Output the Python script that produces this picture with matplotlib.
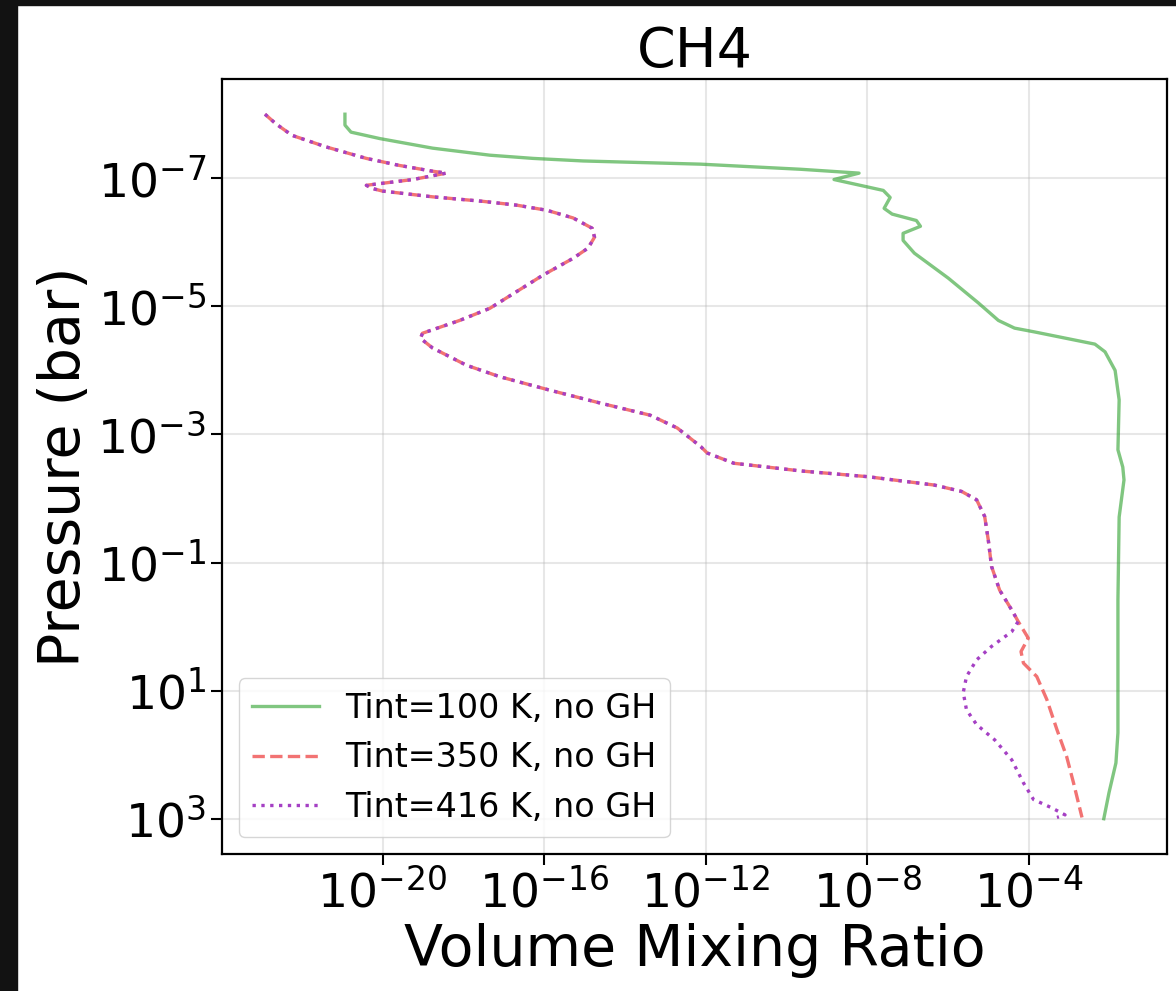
import numpy as np
import matplotlib
matplotlib.use('Agg')
import matplotlib.pyplot as plt
from matplotlib.patches import Rectangle

# log10 values (x = VMR, y = pressure in bar)
tint100_logx = [-20.93, -20.93, -20.78, -20.07, -18.76, -17.34, -16.27, -15.03, -12.12, -9.64,
                -8.20, -8.82, -7.60, -7.43, -7.58, -7.38, -6.78, -6.68, -7.11, -7.11,
                -6.83, -5.99, -5.24, -4.75, -4.35, -3.85, -2.36, -2.11, -1.86, -1.76,
                -1.79, -1.67, -1.64, -1.76, -1.79, -1.79, -1.84, -2.01, -2.14]
tint100_logp = [-8.00, -7.83, -7.72, -7.62, -7.47, -7.36, -7.31, -7.27, -7.22, -7.14,
                -7.08, -6.98, -6.81, -6.70, -6.53, -6.44, -6.34, -6.25, -6.14, -6.03,
                -5.83, -5.44, -5.05, -4.78, -4.66, -4.60, -4.41, -4.29, -4.00, -3.54,
                -2.76, -2.49, -2.29, -1.71, -0.42, 1.66, 2.13, 2.59, 3.00]

# upper part shared by the two hot models
hot_upper_logx = [-22.91, -22.64, -22.24, -21.40, -20.40, -19.58, -18.76, -18.42, -19.25, -20.40,
                  -20.25, -20.00, -18.76, -17.52, -16.68, -15.93, -15.28, -14.81, -14.75, -14.91,
                  -15.28, -16.02, -16.68, -17.34, -18.09, -19.01, -19.06, -18.76, -17.92, -17.09,
                  -15.85, -14.61, -13.37, -12.70, -12.12, -11.96, -11.30, -9.64, -7.98, -6.34,
                  -5.66, -5.29, -5.09, -5.00, -4.92, -4.72, -4.42, -4.26]
hot_upper_logp = [-8.00, -7.85, -7.67, -7.49, -7.31, -7.20, -7.11, -7.08, -6.98, -6.89,
                  -6.84, -6.80, -6.71, -6.64, -6.58, -6.50, -6.38, -6.22, -6.08, -5.91,
                  -5.75, -5.49, -5.23, -4.97, -4.78, -4.58, -4.50, -4.35, -4.08, -3.90,
                  -3.69, -3.49, -3.30, -3.10, -2.81, -2.71, -2.55, -2.43, -2.34, -2.21,
                  -2.11, -1.98, -1.72, -1.35, -0.94, -0.57, -0.26, -0.08]

tint350_tail_logx = [-4.01, -4.19, -4.13, -3.80, -3.55, -3.30, -3.06, -2.89, -2.68]
tint350_tail_logp = [0.18, 0.39, 0.57, 0.78, 1.14, 1.61, 2.03, 2.44, 2.98]

tint416_tail_logx = [-4.42, -4.92, -5.29, -5.54, -5.62, -5.54, -5.29, -4.84, -4.42, -4.13,
                     -3.88, -3.43, -3.10, -3.30]
tint416_tail_logp = [0.08, 0.31, 0.52, 0.78, 1.03, 1.30, 1.53, 1.77, 2.08, 2.44,
                     2.70, 2.83, 2.94, 2.98]

labels = ['Tint=100 K, no GH', 'Tint=350 K, no GH', 'Tint=416 K, no GH']

x100 = 10.0 ** np.array(tint100_logx)
p100 = 10.0 ** np.array(tint100_logp)
x350 = 10.0 ** np.array(hot_upper_logx + tint350_tail_logx)
p350 = 10.0 ** np.array(hot_upper_logp + tint350_tail_logp)
x416 = 10.0 ** np.array(hot_upper_logx + tint416_tail_logx)
p416 = 10.0 ** np.array(hot_upper_logp + tint416_tail_logp)

fig = plt.figure(figsize=(11.76, 9.91), dpi=100)
ax = fig.add_axes([0.1888, 0.1383, 0.8035, 0.782])

ax.plot(x100, p100, color='tab:green', alpha=0.6, lw=2.4, label=labels[0])
ax.plot(x350, p350, color='#f05a5a', alpha=0.85, lw=2.4, ls='--', label=labels[1])
ax.plot(x416, p416, color='#a540c4', lw=2.4, ls=':', label=labels[2])

ax.set_xscale('log')
ax.set_yscale('log')
ax.invert_yaxis()
ax.set_xticks([1e-20, 1e-16, 1e-12, 1e-8, 1e-4])
ax.set_yticks([1e-7, 1e-5, 1e-3, 1e-1, 1e1, 1e3])
ax.minorticks_off()
ax.tick_params(labelsize=34, length=8, width=1.5)
for s in ax.spines.values():
    s.set_linewidth(1.6)
ax.grid(True, alpha=0.3, lw=1.5)

ax.set_xlabel('Volume Mixing Ratio', fontsize=41)
ax.set_ylabel('Pressure (bar)', fontsize=41)
ax.set_title('CH4', fontsize=40)
ax.legend(loc='lower left', fontsize=24)

# dark screenshot border on the left and top
fig.patches.append(Rectangle((0, 0), 17 / 1176, 1, transform=fig.transFigure, color='#121212', zorder=10))
fig.patches.append(Rectangle((0, 1 - 5 / 991), 1, 5 / 991, transform=fig.transFigure, color='#121212', zorder=10))

fig.savefig('out.png', dpi=100)
